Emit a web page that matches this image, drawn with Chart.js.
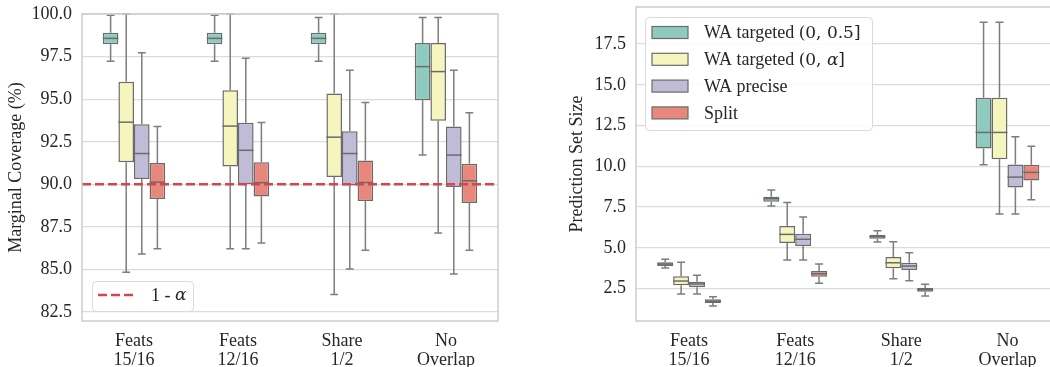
<!DOCTYPE html>
<html>
<head>
<meta charset="utf-8">
<script src="https://cdn.jsdelivr.net/npm/chart.js@4.4.0/dist/chart.umd.min.js"></script>
<style>
  html, body { margin: 0; padding: 0; background: #fff; overflow: hidden; width: 1050px; height: 367px; }
  canvas { position: absolute; top: 0; }
  #coverage { left: 0; }
  #setsize { left: 540px; }
</style>
</head>
<body>
<canvas id="coverage" width="510" height="367"></canvas>
<canvas id="setsize" width="540" height="367"></canvas>
<script>
// groups on the x axis
const groups = [['Feats', '15/16'], ['Feats', '12/16'], ['Share', '1/2'], ['No', 'Overlap']];
const seriesNames = ['WA targeted (0, 0.5]', 'WA targeted (0, α]', 'WA precise', 'Split'];
const seriesColors = ['#8fcabe', '#f5f5bd', '#c0bcd7', '#e8887c'];

// each entry: [whisker low, q1, median, q3, whisker high]
const covTargetedHalf  = [[97.23, 98.22, 98.57, 98.90, 99.92], [97.23, 98.22, 98.57, 98.90, 99.92], [97.23, 98.22, 98.57, 98.90, 99.80], [91.72, 94.94, 96.91, 98.30, 99.80]];
const covTargetedAlpha = [[84.84, 91.30, 93.65, 96.03, 100.0], [86.22, 91.05, 93.42, 95.53, 100.0], [83.53, 90.43, 92.77, 95.33, 100.0], [87.14, 93.73, 96.62, 98.30, 99.80]];
const covPrecise       = [[85.91, 90.31, 91.81, 93.53, 97.73], [86.22, 90.02, 92.00, 93.61, 97.40], [85.03, 89.94, 91.81, 93.12, 96.70], [84.74, 89.84, 91.72, 93.39, 96.70]];
const covSplit         = [[86.22, 89.14, 90.13, 91.25, 93.39], [86.56, 89.29, 90.10, 91.30, 93.63], [86.13, 89.02, 90.11, 91.40, 94.80], [86.13, 88.90, 90.21, 91.21, 94.21]];

const sizeTargetedHalf  = [[3.77, 3.89, 4.01, 4.12, 4.30], [7.57, 7.83, 8.02, 8.14, 8.55], [5.36, 5.56, 5.69, 5.81, 6.05], [10.10, 11.10, 12.08, 14.20, 18.84]];
const sizeTargetedAlpha = [[2.18, 2.71, 2.97, 3.26, 4.12], [4.26, 5.30, 5.83, 6.34, 7.79], [3.11, 3.75, 4.09, 4.44, 5.38], [7.08, 10.43, 12.08, 14.20, 18.84]];
const sizePrecise       = [[2.18, 2.59, 2.79, 2.93, 3.32], [4.26, 5.12, 5.53, 5.87, 6.89], [2.99, 3.65, 3.89, 4.09, 4.71], [7.08, 8.71, 9.34, 10.12, 11.81]];
const sizeSplit         = [[1.44, 1.62, 1.73, 1.85, 2.01], [2.83, 3.24, 3.42, 3.58, 4.01], [2.05, 2.32, 2.44, 2.54, 2.77], [7.95, 9.14, 9.63, 10.10, 11.24]];

const covTicks = [82.5, 85.0, 87.5, 90.0, 92.5, 95.0, 97.5, 100.0];
const sizeTicks = [2.5, 5.0, 7.5, 10.0, 12.5, 15.0, 17.5];
const targetLevel = 90.0;

const serif = "'Liberation Serif', 'Times New Roman', serif";
const mathFont = "'DejaVu Serif', serif";
const textColor = '#262626';
const edgeGray = '#6b6b6b';
const whiskerGray = '#7d7d7d';
const gridColor = '#dcdcdc';
const dashRed = '#d2474f';

function makeDatasets(allStats) {
  return allStats.map((stats, i) => ({
    label: seriesNames[i],
    data: stats.map(s => [s[1], s[3]]),
    stats: stats,
    backgroundColor: seriesColors[i],
    borderColor: edgeGray,
    borderWidth: 1.5,
    borderSkipped: false
  }));
}

// whiskers, caps and medians drawn from the y scale
const boxWhiskers = {
  id: 'boxWhiskers',
  afterDatasetsDraw(chart) {
    const ctx = chart.ctx, y = chart.scales.y;
    const py = v => y.getPixelForValue(v);
    chart.data.datasets.forEach((ds, i) => {
      chart.getDatasetMeta(i).data.forEach((bar, j) => {
        const s = ds.stats[j];
        const x = bar.x, half = bar.width / 2;
        ctx.save();
        ctx.lineWidth = 1.5;
        ctx.strokeStyle = whiskerGray;
        ctx.beginPath();
        ctx.moveTo(x, py(s[3])); ctx.lineTo(x, py(s[4]));
        ctx.moveTo(x, py(s[1])); ctx.lineTo(x, py(s[0]));
        ctx.moveTo(x - half / 2, py(s[4])); ctx.lineTo(x + half / 2, py(s[4]));
        ctx.moveTo(x - half / 2, py(s[0])); ctx.lineTo(x + half / 2, py(s[0]));
        ctx.stroke();
        ctx.strokeStyle = edgeGray;
        ctx.beginPath();
        ctx.moveTo(x - half, py(s[2])); ctx.lineTo(x + half, py(s[2]));
        ctx.stroke();
        ctx.restore();
      });
    });
  }
};

const frame = {
  id: 'frame',
  afterDraw(chart) {
    const a = chart.chartArea, ctx = chart.ctx;
    ctx.save();
    ctx.strokeStyle = '#cdcdcd';
    ctx.lineWidth = 1.5;
    ctx.strokeRect(a.left, a.top, a.right - a.left, a.bottom - a.top);
    ctx.restore();
  }
};

const targetLine = {
  id: 'targetLine',
  afterDatasetsDraw(chart) {
    const ctx = chart.ctx, a = chart.chartArea;
    const yy = chart.scales.y.getPixelForValue(targetLevel);
    ctx.save();
    ctx.strokeStyle = dashRed;
    ctx.lineWidth = 2.5;
    ctx.setLineDash([9, 4]);
    ctx.beginPath();
    ctx.moveTo(a.left, yy); ctx.lineTo(a.right, yy);
    ctx.stroke();
    ctx.restore();
  }
};

function legendBox(ctx, x, y, w, h) {
  ctx.save();
  ctx.fillStyle = 'rgba(255,255,255,0.85)';
  ctx.strokeStyle = '#dadada';
  ctx.lineWidth = 1;
  ctx.beginPath();
  ctx.roundRect(x, y, w, h, 4);
  ctx.fill();
  ctx.stroke();
  ctx.restore();
}

// write text where the part after "(" or the alpha is set like math
function drawLabel(ctx, text, x, y) {
  let cut = text.indexOf('(');
  if (cut < 0) cut = text.indexOf('α');
  const plain = cut < 0 ? text : text.slice(0, cut);
  ctx.font = '18px ' + serif;
  ctx.fillText(plain, x, y);
  x += ctx.measureText(plain).width;
  if (cut < 0) return;
  for (const ch of text.slice(cut)) {
    ctx.font = (ch === 'α' ? 'italic ' : '') + '17px ' + mathFont;
    ctx.fillText(ch, x, y);
    x += ctx.measureText(ch).width;
  }
}

const coverageLegend = {
  id: 'coverageLegend',
  afterDraw(chart) {
    const ctx = chart.ctx;
    legendBox(ctx, 92.5, 281.5, 101, 30);
    ctx.save();
    ctx.strokeStyle = dashRed;
    ctx.lineWidth = 2.5;
    ctx.setLineDash([9, 4]);
    ctx.beginPath();
    ctx.moveTo(98, 295); ctx.lineTo(133, 295);
    ctx.stroke();
    ctx.fillStyle = textColor;
    ctx.textBaseline = 'middle';
    drawLabel(ctx, '1 - α', 151, 296);
    ctx.restore();
  }
};

const sizeLegend = {
  id: 'sizeLegend',
  afterDraw(chart) {
    const ctx = chart.ctx;
    legendBox(ctx, 105.5, 17.5, 227, 113);
    ctx.save();
    chart.data.datasets.forEach((ds, i) => {
      const cy = 32.5 + i * 26.8;
      ctx.fillStyle = ds.backgroundColor;
      ctx.strokeStyle = edgeGray;
      ctx.lineWidth = 1.2;
      ctx.fillRect(112, cy - 6, 36, 12);
      ctx.strokeRect(112, cy - 6, 36, 12);
      ctx.fillStyle = textColor;
      ctx.textBaseline = 'middle';
      drawLabel(ctx, ds.label, 164, cy + 1);
    });
    ctx.restore();
  }
};

function options(ticks, min, max, title, yWidth, titlePad, padRight, padTop) {
  return {
    responsive: false,
    animation: false,
    layout: { autoPadding: false, padding: { left: 0, right: padRight, top: padTop, bottom: 0 } },
    datasets: { bar: { categoryPercentage: 0.6, barPercentage: 1.0 } },
    plugins: { legend: { display: false }, tooltip: { enabled: false } },
    scales: {
      x: {
        grid: { display: false },
        border: { display: false },
        ticks: { color: textColor, padding: 2, font: { family: serif, size: 18, lineHeight: 1.1 } },
        afterFit(s) { s.height = 46; }
      },
      y: {
        min: min, max: max,
        afterBuildTicks(s) { s.ticks = ticks.map(v => ({ value: v })); },
        afterFit(s) { s.width = yWidth; s.paddingTop = 0; s.paddingBottom = 0; },
        grid: { color: gridColor, lineWidth: 1.3, drawTicks: false },
        border: { display: false },
        ticks: { color: textColor, padding: 10, font: { family: serif, size: 18 }, callback: v => v.toFixed(1) },
        title: { display: true, text: title, color: textColor, font: { family: serif, size: 18 }, padding: { top: titlePad, bottom: 0 } }
      }
    }
  };
}

new Chart(document.getElementById('coverage'), {
  type: 'bar',
  data: { labels: groups, datasets: makeDatasets([covTargetedHalf, covTargetedAlpha, covPrecise, covSplit]) },
  options: options(covTicks, 81.98, 100.0, 'Marginal Coverage (%)', 82, 5.5, 12, 14),
  plugins: [frame, boxWhiskers, targetLine, coverageLegend]
});

new Chart(document.getElementById('setsize'), {
  type: 'bar',
  data: { labels: groups, datasets: makeDatasets([sizeTargetedHalf, sizeTargetedAlpha, sizePrecise, sizeSplit]) },
  options: options(sizeTicks, 0.52, 19.77, 'Prediction Set Size', 96, 26, 19.5, 7),
  plugins: [frame, boxWhiskers, sizeLegend]
});
</script>
</body>
</html>
